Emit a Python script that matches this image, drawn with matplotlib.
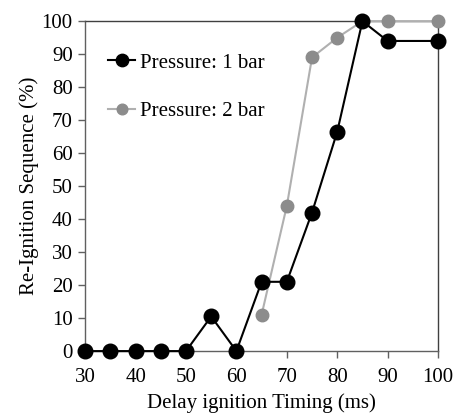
import matplotlib
matplotlib.use("Agg")
import matplotlib.pyplot as plt

x1 = [30, 35, 40, 45, 50, 55, 60, 65, 70, 75, 80, 85, 90, 100]
y1 = [0, 0, 0, 0, 0, 10.5, 0, 21, 21, 42, 66.5, 100, 94, 94]
x2 = [65, 70, 75, 80, 85, 90, 100]
y2 = [11, 44, 89, 95, 100, 100, 100]
xticks = [30, 40, 50, 60, 70, 80, 90, 100]
yticks = [0, 10, 20, 30, 40, 50, 60, 70, 80, 90, 100]

plt.rcParams['font.family'] = ['Liberation Serif', 'DejaVu Serif']
fig = plt.figure(figsize=(4.53, 4.15), dpi=100)
ax = fig.add_axes([0.188, 0.154, 0.779, 0.795])

ax.plot(x2, y2, color='#b0b0b0', lw=1.5, marker='o', ms=9, mfc='#8c8c8c', mec='#8c8c8c',
        label='Pressure: 2 bar', zorder=2)
ax.plot(x1, y1, color='black', lw=1.5, marker='o', ms=10.5, mfc='black', mec='black',
        label='Pressure: 1 bar', zorder=3)

ax.set_xlim(30, 100)
ax.set_ylim(0, 100)
ax.set_xticks(xticks)
ax.set_yticks(yticks)
ax.tick_params(labelsize=15, direction='out', length=5, color='#606060', width=1)
ax.tick_params(axis='x', pad=7)
ax.tick_params(axis='y', pad=4)
for s in ax.spines.values():
    s.set_color('#606060')
    s.set_linewidth(1.0)
    s.set_zorder(1)
for s in ['top', 'right']:
    ax.spines[s].set_color('#404040')
ax.set_xlabel('Delay ignition Timing (ms)', fontsize=15, labelpad=5)
ax.set_ylabel('Re-Ignition Sequence (%)', fontsize=15, labelpad=2)

h, l = ax.get_legend_handles_labels()
ax.legend(h[::-1], l[::-1], loc='upper left', bbox_to_anchor=(0.065, 0.903), frameon=False,
          fontsize=15, handlelength=1.3, handletextpad=0.25, labelspacing=1.38,
          borderpad=0, borderaxespad=0, markerscale=0.85)
for line in ax.lines:
    line.set_clip_on(False)

fig.savefig('out.png', dpi=100)
